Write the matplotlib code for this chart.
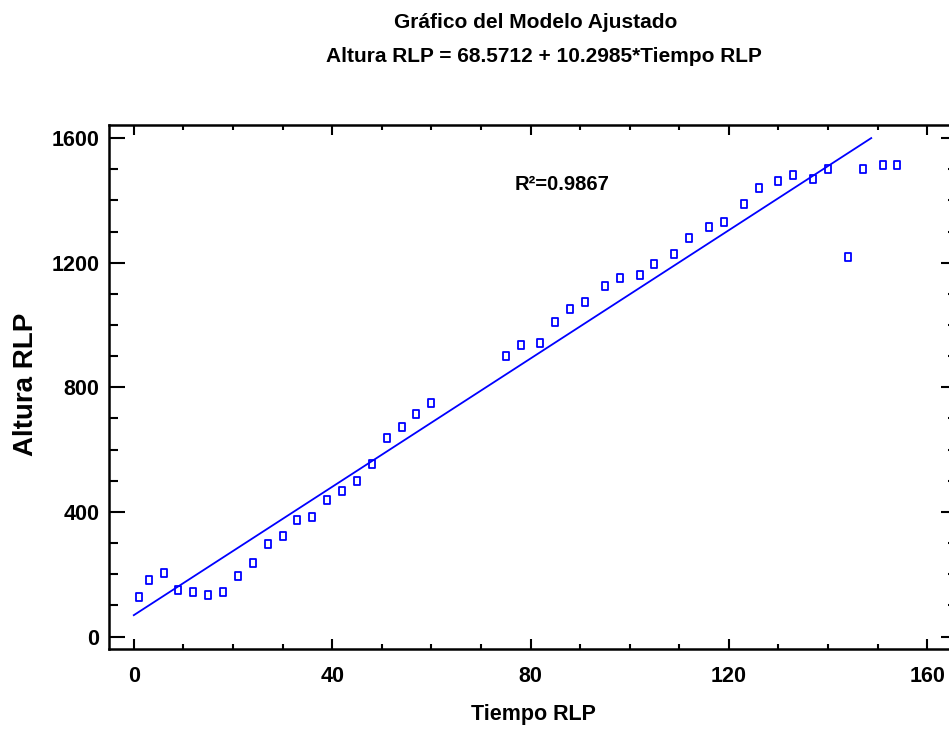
import matplotlib
matplotlib.use("Agg")
import matplotlib.pyplot as plt
from matplotlib.path import Path
from matplotlib.ticker import MultipleLocator

# datos
tiempo = [1, 3, 6, 9, 12, 15, 18, 21, 24, 27, 30, 33, 36, 39, 42, 45, 48, 51, 54, 57, 60,
          75, 78, 82, 85, 88, 91, 95, 98, 102, 105, 109, 112, 116, 119, 123, 126, 130,
          133, 137, 140, 144, 147, 151, 154]
altura = [126, 181, 203, 148, 143, 132, 143, 193, 237, 297, 324, 374, 384, 439, 467, 499,
          553, 637, 674, 713, 751, 899, 937, 943, 1009, 1052, 1074, 1124, 1150, 1162, 1195,
          1228, 1278, 1315, 1331, 1387, 1441, 1463, 1480, 1468, 1501, 1217, 1501, 1512, 1512]

b0 = 68.5712
b1 = 10.2985
r2 = 0.9867

x_ticks = [0, 40, 80, 120, 160]
y_ticks = [0, 400, 800, 1200, 1600]

fuente = ['Liberation Sans', 'DejaVu Sans']

fig = plt.figure(figsize=(9.49, 7.30), dpi=100)
ax = fig.add_axes([109 / 949, 81 / 730, 848 / 949, 524 / 730])

# marcador rectangular hueco
rect = Path([(-0.38, -0.5), (0.38, -0.5), (0.38, 0.5), (-0.38, 0.5), (-0.38, -0.5)],
            [Path.MOVETO, Path.LINETO, Path.LINETO, Path.LINETO, Path.CLOSEPOLY])
ax.plot(tiempo, altura, linestyle='none', marker=rect, markersize=5.8,
        markerfacecolor='none', markeredgecolor='#0000ff', markeredgewidth=1.3)

x_end = (1600 - b0) / b1
ax.plot([0, x_end], [b0, b0 + b1 * x_end], color='#0000ff', linewidth=1.3)

ax.set_xlim(-5, 166)
ax.set_ylim(-40, 1642)
ax.set_xticks(x_ticks)
ax.set_yticks(y_ticks)
ax.xaxis.set_minor_locator(MultipleLocator(10))
ax.yaxis.set_minor_locator(MultipleLocator(100))

ax.tick_params(axis='x', which='both', direction='in', top=True, bottom=True, width=1.5)
ax.tick_params(axis='x', which='major', length=7.2, pad=12)
ax.tick_params(axis='x', which='minor', length=3.6)
ax.tick_params(axis='y', which='both', direction='in', left=True, right=True, width=1.5)
ax.tick_params(axis='y', which='major', length=11.5, pad=7)
ax.tick_params(axis='y', which='minor', length=6.5)
for s in ax.spines.values():
    s.set_linewidth(1.8)

for lab in ax.get_xticklabels() + ax.get_yticklabels():
    lab.set_family(fuente)
    lab.set_fontweight('bold')
    lab.set_fontsize(15.5)

ax.set_xlabel('Tiempo RLP', family=fuente, fontweight='bold', fontsize=15.5)
ax.xaxis.set_label_coords(0.5, -0.105)
ax.set_ylabel('Altura RLP', family=fuente, fontweight='bold', fontsize=20)
ax.yaxis.set_label_coords(-0.082, 0.505)

ax.text(76.7, 1434, 'R²=%.4f' % r2, family=fuente, fontweight='bold', fontsize=14.5,
        ha='left', va='baseline')

fig.text(536 / 949, 1 - 22 / 730, 'Gráfico del Modelo Ajustado', family=fuente,
         fontweight='bold', fontsize=15, ha='center', va='center')
fig.text(544 / 949, 1 - 57 / 730, 'Altura RLP = %.4f + %.4f*Tiempo RLP' % (b0, b1),
         family=fuente, fontweight='bold', fontsize=15, ha='center', va='center')

fig.savefig('out.png', dpi=100)
